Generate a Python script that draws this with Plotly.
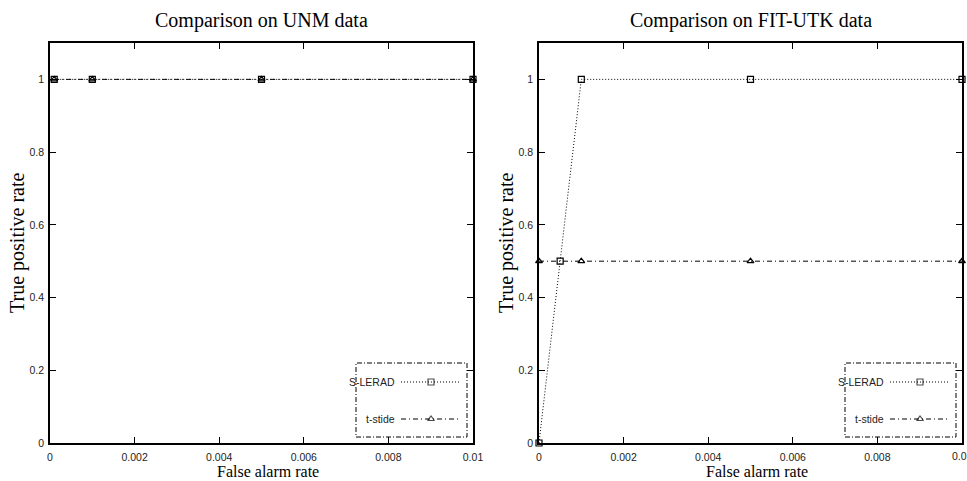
import plotly.graph_objects as go

# ---------------- data ----------------
unm_fa_slerad = [0.0001, 0.001, 0.005, 0.01]
unm_tp_slerad = [1, 1, 1, 1]
unm_fa_tstide = [0.0001, 0.001, 0.005, 0.01]
unm_tp_tstide = [1, 1, 1, 1]

fit_fa_slerad = [0, 0.0005, 0.001, 0.005, 0.01]
fit_tp_slerad = [0, 0.5, 1, 1, 1]
fit_fa_tstide = [0, 0.001, 0.005, 0.01]
fit_tp_tstide = [0.5, 0.5, 0.5, 0.5]

x_tickvals = [0, 0.002, 0.004, 0.006, 0.008, 0.01]
x_ticktext = ["0", "0.002", "0.004", "0.006", "0.008", "0.01"]
y_tickvals = [0, 0.2, 0.4, 0.6, 0.8, 1]
y_ticktext = ["0", "0.2", "0.4", "0.6", "0.8", "1"]

titles = ["Comparison on UNM data", "Comparison on FIT-UTK data"]
series_names = ["S-LERAD", "t-stide"]

# ---------------- layout constants ----------------
W, H = 967, 481
px_x = lambda p: p / W
px_y = lambda p: 1 - p / H

DOT = "1px,2px"
DASHDOT = "5px,3px,1px,3px"
BOXDASH = "5px,2px,1px,2px"
SANS = "Liberation Sans, Arial, sans-serif"
SERIF = "Liberation Serif, Times New Roman, serif"

panels = [
    dict(x0=50, x1=473),
    dict(x0=539, x1=962),
]
top, bottom = 43, 443

fig = go.Figure()

def add_series(fa, tp, name, xa, ya, dash, symbol):
    fig.add_trace(go.Scatter(
        x=fa, y=tp, name=name, mode="lines+markers",
        xaxis=xa, yaxis=ya, showlegend=False,
        line=dict(color="black", width=1, dash=dash),
        marker=dict(symbol=symbol, size=6, color="black",
                    line=dict(color="black", width=1.2)),
        cliponaxis=False,
    ))

add_series(unm_fa_slerad, unm_tp_slerad, series_names[0], "x", "y", DOT, "square-open")
add_series(unm_fa_tstide, unm_tp_tstide, series_names[1], "x", "y", DASHDOT, "triangle-up-open")
add_series(fit_fa_slerad, fit_tp_slerad, series_names[0], "x2", "y2", DOT, "square-open")
add_series(fit_fa_tstide, fit_tp_tstide, series_names[1], "x2", "y2", DASHDOT, "triangle-up-open")

axis_common = dict(
    showgrid=False, zeroline=False, showline=True, linecolor="black", linewidth=1.5,
    mirror="ticks", ticks="inside", ticklen=6, tickcolor="black", tickwidth=1,
    tickfont=dict(family=SANS, size=10.5, color="#222"), automargin=False,
)

layout = dict(
    width=W, height=H, margin=dict(l=0, r=0, t=0, b=0, pad=0), autosize=False,
    paper_bgcolor="white", plot_bgcolor="rgba(0,0,0,0)", showlegend=False,
)
for i, p in enumerate(panels):
    sfx = "" if i == 0 else "2"
    layout["xaxis" + sfx] = dict(
        axis_common, domain=[px_x(p["x0"]), px_x(p["x1"])], range=[0, 0.01],
        tickvals=x_tickvals, ticktext=x_ticktext, anchor="y" + sfx,
        ticklabelstandoff=4,
    )
    layout["yaxis" + sfx] = dict(
        axis_common, domain=[px_y(bottom), px_y(top)], range=[0, 1.1],
        tickvals=y_tickvals, ticktext=y_ticktext, anchor="x" + sfx,
        ticklabelstandoff=2,
    )

# overlay pixel axis for legend samples
layout["xaxis3"] = dict(domain=[0, 1], range=[0, W], visible=False, anchor="y3",
                        fixedrange=True, automargin=False)
layout["yaxis3"] = dict(domain=[0, 1], range=[H, 0], visible=False, anchor="x3",
                        fixedrange=True, automargin=False)

fig.update_layout(**layout)

annotations = []
shapes = []
legend_boxes = [dict(x0=356, x1=467), dict(x0=845, x1=956)]
for i, p in enumerate(panels):
    cx = (p["x0"] + p["x1"]) / 2
    annotations.append(dict(text=titles[i], x=px_x(cx), y=px_y(20), xref="paper", yref="paper",
                            showarrow=False, font=dict(family=SERIF, size=20, color="black"),
                            xanchor="center", yanchor="middle"))
    annotations.append(dict(text="False alarm rate", x=px_x(cx + 6), y=px_y(471), xref="paper",
                            yref="paper", showarrow=False,
                            font=dict(family=SERIF, size=16, color="black"),
                            xanchor="center", yanchor="middle"))
    annotations.append(dict(text="True positive rate", x=px_x(p["x0"] - 33), y=px_y(243),
                            xref="paper", yref="paper", showarrow=False, textangle=-90,
                            font=dict(family=SERIF, size=20, color="black"),
                            xanchor="center", yanchor="middle"))
    # legend
    lb = legend_boxes[i]
    shapes.append(dict(type="rect", xref="paper", yref="paper",
                       x0=px_x(lb["x0"]), x1=px_x(lb["x1"]), y0=px_y(437), y1=px_y(363),
                       line=dict(color="black", width=1, dash=BOXDASH), fillcolor="white",
                       layer="below"))
    for j, (nm, dash, sym, ly) in enumerate([(series_names[0], DOT, "square-open", 382),
                                            (series_names[1], DASHDOT, "triangle-up-open", 419)]):
        annotations.append(dict(text=nm, x=px_x(lb["x0"] + 41), y=px_y(ly), xref="paper",
                                yref="paper", showarrow=False, xanchor="right", yanchor="middle",
                                font=dict(family=SANS, size=10.5, color="#222")))
        sx0, sx1 = lb["x0"] + 45, lb["x1"] - 6
        fig.add_trace(go.Scatter(
            x=[sx0, (sx0 + sx1) / 2, sx1], y=[ly, ly, ly], xaxis="x3", yaxis="y3",
            mode="lines+markers", showlegend=False, hoverinfo="skip",
            line=dict(color="black", width=1, dash=dash),
            marker=dict(symbol=sym, size=[0, 6, 0], color="black",
                        line=dict(color="black", width=1.2)),
        ))

# last tick label of the right panel, which runs past the page edge (cut off in the original)
annotations.append(dict(text=x_ticktext[-1], x=x_tickvals[-1], xref="x2", y=px_y(456),
                        yref="paper", showarrow=False, xanchor="center", yanchor="middle",
                        font=dict(family=SANS, size=10.5, color="#222")))

fig.update_layout(annotations=annotations, shapes=shapes)
fig.write_html("out.html", post_script="document.body.style.margin='0';",
               config={"displayModeBar": False})
